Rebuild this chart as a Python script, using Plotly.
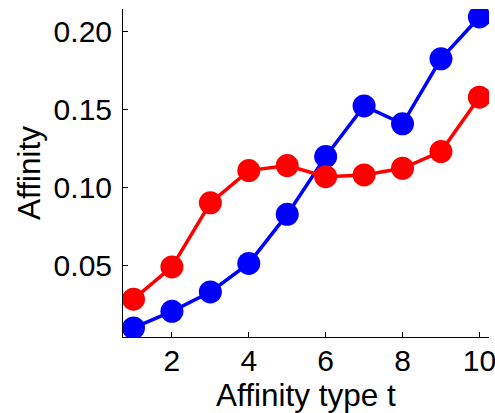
import plotly.graph_objects as go

affinity_type = [1, 2, 3, 4, 5, 6, 7, 8, 9, 10]
affinity_blue = [0.0097, 0.0204, 0.0328, 0.0511, 0.0826, 0.1197, 0.1522, 0.1407, 0.1824, 0.2093]
affinity_red = [0.0282, 0.0489, 0.0900, 0.1107, 0.1139, 0.1068, 0.1079, 0.1122, 0.1229, 0.1578]

x_ticks = [2, 4, 6, 8, 10]
y_ticks = [0.05, 0.10, 0.15, 0.20]
y_tick_labels = ["0.05", "0.10", "0.15", "0.20"]

FONT = "Liberation Sans, Arial, Helvetica, sans-serif"

fig = go.Figure()
for vals, color in [(affinity_blue, "#0000ff"), (affinity_red, "#ff0000")]:
    fig.add_trace(go.Scatter(
        x=affinity_type, y=vals, mode="lines+markers",
        line=dict(color=color, width=3.5),
        marker=dict(color=color, size=23, line=dict(width=0)),
        showlegend=False,
    ))

fig.update_layout(
    width=495, height=413,
    margin=dict(l=123, r=6, t=9, b=76),
    paper_bgcolor="white", plot_bgcolor="white",
    font=dict(family=FONT, color="black", size=30),
)
fig.update_xaxes(
    range=[0.727, 10.25], tickvals=x_ticks,
    showgrid=False, zeroline=False, automargin=False,
    showline=True, linecolor="black", linewidth=1,
    ticks="inside", ticklen=5, tickcolor="black",
    tickfont=dict(size=30), ticklabelstandoff=-3, ticklabeloverflow="allow",
    title=dict(text="Affinity type t", font=dict(size=31.5), standoff=14),
)
fig.update_yaxes(
    range=[0.0039, 0.2144], tickvals=y_ticks, ticktext=y_tick_labels,
    showgrid=False, zeroline=False, automargin=False,
    showline=True, linecolor="black", linewidth=1,
    ticks="inside", ticklen=5, tickcolor="black",
    tickfont=dict(size=30), ticklabelstandoff=4, ticklabeloverflow="allow",
    title=dict(text="Affinity", font=dict(size=31.5), standoff=3),
)

fig.write_html("out.html")
